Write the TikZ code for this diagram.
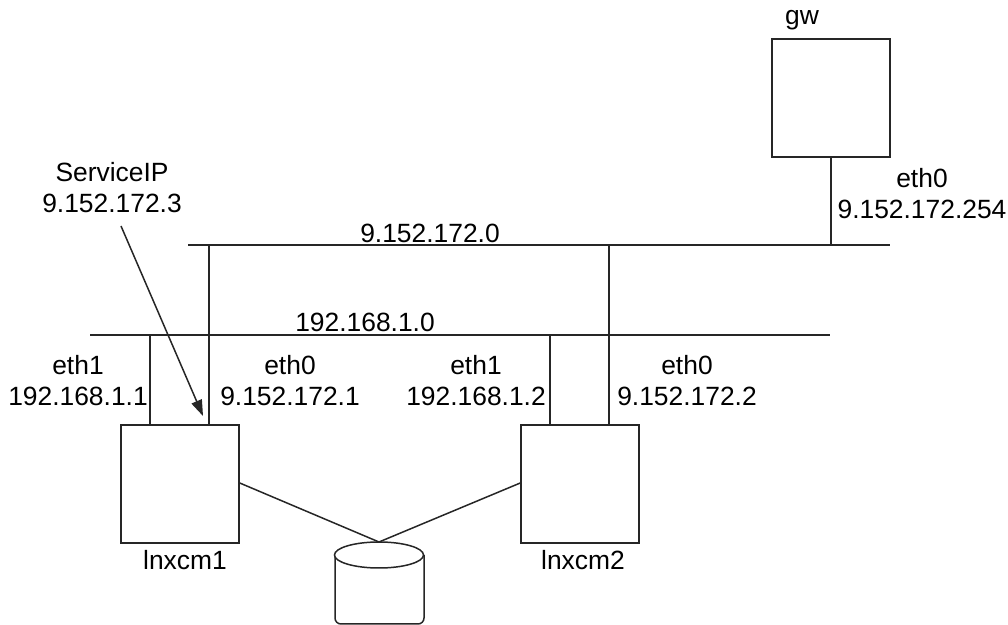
\documentclass[tikz,border=0pt]{standalone}
\usepackage{fontspec}
\setmainfont{Liberation Sans}
\usetikzlibrary{arrows.meta}
\begin{document}
\begin{tikzpicture}[x=0.5pt,y=-0.5pt,
  every node/.style={font=\fontsize{13.2pt}{15.5pt}\selectfont, inner sep=0pt},
  ln/.style={line width=0.75pt, draw=black!85},
  box/.style={draw=black!85, line width=0.75pt, fill=white, minimum width=59pt, minimum height=59pt, inner sep=0pt},
  lbl/.style={align=center}]
\useasboundingbox (0,0) rectangle (1008,625);
% boxes
\node[box] (gw) at (831,98) {};
\node[box] (n1) at (180,484) {};
\node[box] (n2) at (580,484) {};
\node (gwl) at (802,20) {gw};
\node (n1l) at (185,560) {lnxcm1};
\node (n2l) at (583,560) {lnxcm2};
% networks
\coordinate (t1) at (188,245); \coordinate (t2) at (890,245);
\coordinate (b1) at (90,335); \coordinate (b2) at (830,335);
\draw[ln] (t1) -- (t2);
\draw[ln] (b1) -- (b2);
\node (tl) at (430,233) {9.152.172.0};
\node (bl) at (365,322) {192.168.1.0};
% taps
\coordinate (g0) at (831,245);
\draw[ln] (gw.south -| g0) -- (g0);
\coordinate (a1) at (150,335); \coordinate (a0) at (209,245);
\coordinate (c1) at (550,335); \coordinate (c0) at (609,245);
\draw[ln] (a1) -- (a1 |- n1.north);
\draw[ln] (a0) -- (a0 |- n1.north);
\draw[ln] (c1) -- (c1 |- n2.north);
\draw[ln] (c0) -- (c0 |- n2.north);
% labels
\node[lbl] (e11) at (78,381) {eth1\\192.168.1.1};
\node[lbl] (e10) at (290,381) {eth0\\9.152.172.1};
\node[lbl] (e21) at (476,381) {eth1\\192.168.1.2};
\node[lbl] (e20) at (687,381) {eth0\\9.152.172.2};
\node[lbl] (eg) at (922,194) {eth0\\9.152.172.254};
\node[lbl] (sip) at (112,188) {ServiceIP\\9.152.172.3};
% arrow
\coordinate (arrE) at (203,416);
\draw[ln, -{Triangle[length=8pt,width=5.5pt]}] (121,226) -- (arrE);
% disk
\coordinate (dk) at (379,542);
\draw[ln, fill=white] (335,555) -- (335,618) arc[start angle=180,end angle=270,x radius=6,y radius=-6] -- (418,624) arc[start angle=270,end angle=360,x radius=6,y radius=-6] -- (424,555);
\draw[ln, fill=white] (379,555) ellipse[x radius=44.5, y radius=13];
\draw[ln] (n1.east |- 0,483) -- (dk);
\draw[ln] (n2.west |- 0,483) -- (dk);
\end{tikzpicture}
\end{document}
